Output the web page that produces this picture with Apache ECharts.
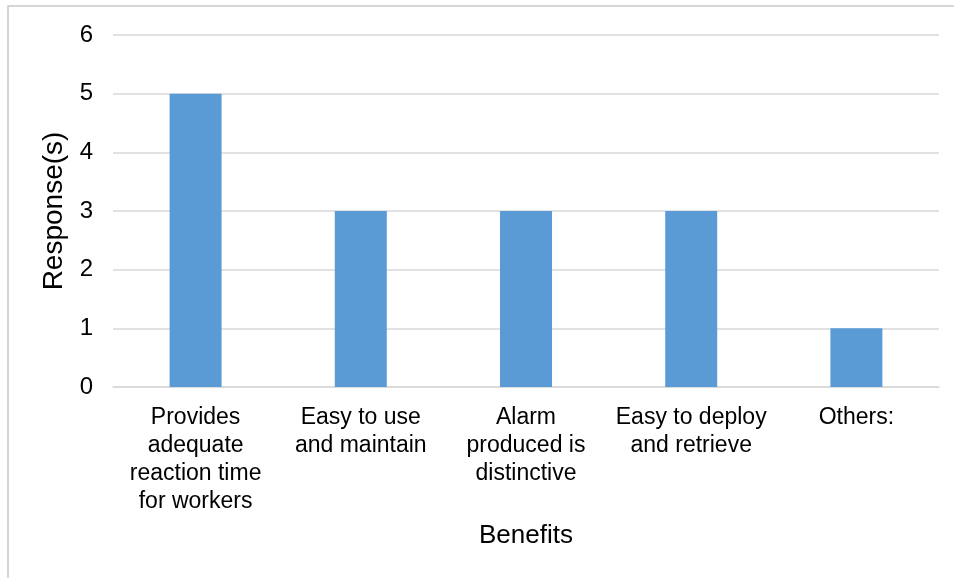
<!DOCTYPE html>
<html>
<head>
<meta charset="utf-8">
<script src="https://cdn.jsdelivr.net/npm/echarts@6/dist/echarts.min.js"></script>
<style>html,body{margin:0;padding:0;background:#fff}#c{width:954px;height:578px}</style>
</head>
<body>
<div id="c"></div>
<script>
const categories = ["Provides\nadequate\nreaction time\nfor workers", "Easy to use\nand maintain", "Alarm\nproduced is\ndistinctive", "Easy to deploy\nand retrieve", "Others:"];
const responses = [5, 3, 3, 3, 1];
const yTicks = [0, 1, 2, 3, 4, 5, 6];

const chart = echarts.init(document.getElementById('c'));
const font = '"Liberation Sans", Arial, sans-serif';
chart.setOption({
  animation: false,
  backgroundColor: '#fff',
  graphic: [{
    type: 'rect', shape: {x: 8, y: 6, width: 1000, height: 1000},
    style: {fill: 'none', stroke: '#c8c8c8', lineWidth: 1.5}, silent: true, z: -1
  }],
  grid: {left: 113, right: 15, top: 35, bottom: 191},
  xAxis: {
    type: 'category', data: categories,
    name: 'Benefits', nameLocation: 'middle', nameGap: 136,
    nameTextStyle: {fontFamily: font, fontSize: 26, color: '#000'},
    axisLine: {lineStyle: {color: '#d9d9d9', width: 1.5}},
    axisTick: {show: false},
    axisLabel: {fontFamily: font, fontSize: 23, color: '#000', lineHeight: 28, margin: 17, interval: 0}
  },
  yAxis: {
    type: 'value', min: yTicks[0], max: yTicks[yTicks.length - 1], interval: 1,
    name: 'Response(s)', nameLocation: 'middle', nameGap: 42,
    nameTextStyle: {fontFamily: font, fontSize: 28, color: '#000'},
    axisLine: {show: false}, axisTick: {show: false},
    axisLabel: {fontFamily: font, fontSize: 24, color: '#000', margin: 20},
    splitLine: {lineStyle: {color: '#d9d9d9', width: 1.5}}
  },
  series: [{
    type: 'bar', data: responses, barWidth: 52,
    itemStyle: {color: '#5b9bd5'}
  }]
});
</script>
</body>
</html>
